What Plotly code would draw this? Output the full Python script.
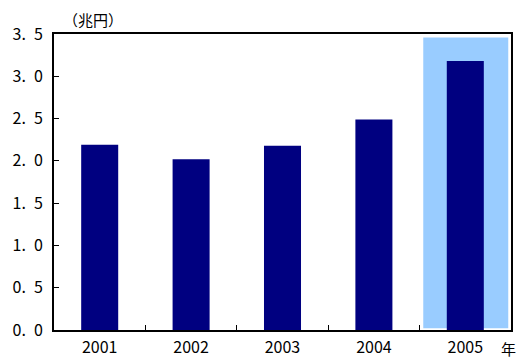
import plotly.graph_objects as go

# Annual amounts (trillion yen)
years = ["2001", "2002", "2003", "2004", "2005"]
values = [2.19, 2.02, 2.18, 2.49, 3.18]

y_ticks = [0.0, 0.5, 1.0, 1.5, 2.0, 2.5, 3.0, 3.5]
y_ticktext = ["0.\u20020", "0.\u20025", "1.\u20020", "1.\u20025",
              "2.\u20020", "2.\u20025", "3.\u20020", "3.\u20025"]

FONT = "Noto Sans CJK JP"
NAVY = "#000080"
HIGHLIGHT = "#99CCFF"

fig = go.Figure(
    go.Bar(
        x=years,
        y=values,
        marker=dict(color=NAVY, line=dict(width=0)),
        width=0.405,
    )
)

# Highlight band behind the latest year
fig.add_shape(
    type="rect",
    xref="x",
    yref="y",
    x0=3.54,
    x1=4.47,
    y0=0.02,
    y1=3.46,
    fillcolor=HIGHLIGHT,
    line=dict(width=0),
    layer="below",
)

fig.update_layout(
    width=519,
    height=359,
    margin=dict(l=54, r=8, t=34, b=29),
    paper_bgcolor="white",
    plot_bgcolor="white",
    showlegend=False,
    font=dict(family=FONT, size=15, color="black"),
    xaxis=dict(
        type="category",
        range=[-0.5, 4.5],
        automargin=False,
        showline=True,
        linecolor="black",
        linewidth=2,
        mirror=True,
        ticks="inside",
        tickson="boundaries",
        ticklen=5,
        tickcolor="black",
        showgrid=False,
        tickfont=dict(family=FONT, size=16),
        ticklabelstandoff=2,
    ),
    yaxis=dict(
        range=[0, 3.5],
        automargin=False,
        tickvals=y_ticks,
        ticktext=y_ticktext,
        showline=True,
        linecolor="black",
        linewidth=2,
        mirror=True,
        ticks="inside",
        ticklen=5,
        tickcolor="black",
        showgrid=False,
        zeroline=False,
        tickfont=dict(family=FONT, size=16),
        ticklabelstandoff=6,
    ),
    annotations=[
        dict(
            text="（兆円）",
            xref="paper",
            yref="paper",
            x=0.015,
            y=1,
            xanchor="left",
            yanchor="bottom",
            yshift=2,
            showarrow=False,
            font=dict(family=FONT, size=15),
        ),
        dict(
            text="年",
            xref="paper",
            yref="paper",
            x=0.995,
            y=0,
            xanchor="center",
            yanchor="top",
            yshift=-6,
            showarrow=False,
            font=dict(family=FONT, size=15),
        ),
    ],
)

fig.write_html("out.html")
